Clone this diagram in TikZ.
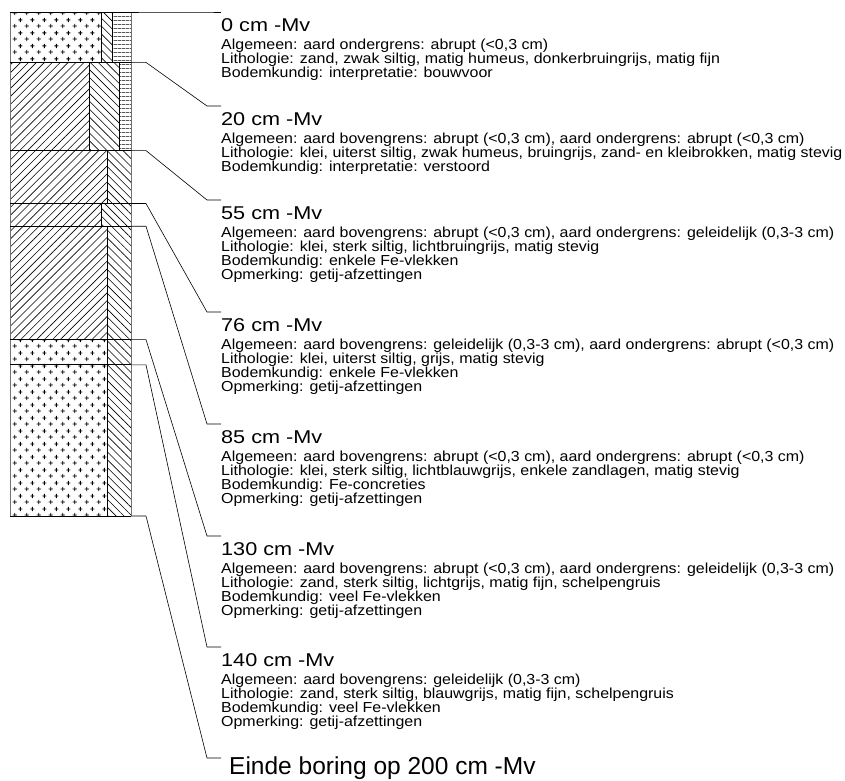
\documentclass[tikz,border=0pt]{standalone}
\usepackage{fontspec}
\setmainfont[FakeStretch=1.1]{Liberation Sans}
\newfontfamily\headfont[FakeStretch=1.17]{Liberation Sans}
\newfontfamily\endfont{Liberation Sans}
\usetikzlibrary{patterns.meta}

%% sand symbol: staggered plus signs
\tikzdeclarepattern{
  name=plusses,
  bounding box={(0pt,0pt) and (12pt,12.5pt)},
  tile size={(12pt,12.5pt)},
  code={
    \draw[line width=0.9pt] (0.8pt,3.1pt) -- (5.2pt,3.1pt) (3pt,0.9pt) -- (3pt,5.3pt)
      (6.8pt,9.4pt) -- (11.2pt,9.4pt) (9pt,7.2pt) -- (9pt,11.6pt);
  }
}

\begin{document}
\begin{tikzpicture}[x=1pt,y=-1pt,
    head/.style={anchor=base west,inner sep=0pt,font=\headfont\fontsize{18.5}{18.5}\selectfont},
    info/.style={anchor=base west,inner sep=0pt,align=left,font=\fontsize{14.5}{14}\selectfont},
    leader/.style={line width=0.6pt},
    divider/.style={line width=0.8pt},
    outline/.style={line width=0.8pt,black!55},
    slash/.style={pattern={Lines[angle=45,distance=5.6pt,line width=0.6pt]}},
    bslash/.style={pattern={Lines[angle=-45,distance=5.6pt,line width=0.6pt]}},
    hlines/.style={pattern={Lines[angle=0,distance=4pt,line width=0.6pt]}},
    sand/.style={pattern=plusses}]
    \useasboundingbox (0,0) rectangle (845,780);
    %% boring column, depth in cm
    \begin{scope}[yshift=-12pt,y=-2.52pt]
        \fill[sand]   (10,0)    rectangle (101,20);
        \fill[bslash] (101,0)   rectangle (112,20);
        \fill[hlines] (112,0)   rectangle (131,20);
        \fill[slash]  (10,20)   rectangle (89,55);
        \fill[bslash] (89,20)   rectangle (119,55);
        \fill[hlines] (119,20)  rectangle (131,55);
        \fill[slash]  (10,55)   rectangle (107,76);
        \fill[bslash] (107,55)  rectangle (131,76);
        \fill[slash]  (10,76)   rectangle (101,85);
        \fill[bslash] (101,76)  rectangle (131,85);
        \fill[slash]  (10,85)   rectangle (107,130);
        \fill[bslash] (107,85)  rectangle (131,130);
        \fill[sand]   (10,130)  rectangle (107,200);
        \fill[bslash] (107,130) rectangle (131,200);
        %% dividers
        \draw[divider] (101,0) -- (101,20) (112,0) -- (112,20)
            (89,20) -- (89,55) (119,20) -- (119,55)
            (107,55) -- (107,76) (101,76) -- (101,85) (107,85) -- (107,200);
        \draw[outline] (10,0) -- (10,200) (131,0) -- (131,200);
        %% layer borders
        \foreach \d in {0,20,55,76,85,130,140,200} {
            \draw[divider] (10,\d) -- (131,\d);
            \coordinate (b\d) at (131,\d);
        }
    \end{scope}
    %% leaders
    \foreach \d/\yl in {0/12,20/106,55/200,76/312,85/424,130/536,140/647,200/758} {
        \coordinate (l\d) at (207,\yl);
        \draw[leader] (b\d) -- ++(15,0) -- (l\d) -- ++(14,0);
    }
    %% descriptions (info base = last line)
    \node[head] (h0) at (221,31) {0 cm -Mv};
    \node[info] (i0) at (221,77) {Algemeen: aard ondergrens: abrupt (<0,3 cm)\\
        Lithologie: zand, zwak siltig, matig humeus, donkerbruingrijs, matig fijn\\
        Bodemkundig: interpretatie: bouwvoor};
    \node[head] (h20) at (221,125) {20 cm -Mv};
    \node[info] (i20) at (221,171) {Algemeen: aard bovengrens: abrupt (<0,3 cm), aard ondergrens: abrupt (<0,3 cm)\\
        Lithologie: klei, uiterst siltig, zwak humeus, bruingrijs, zand- en kleibrokken, matig stevig\\
        Bodemkundig: interpretatie: verstoord};
    \node[head] (h55) at (221,219) {55 cm -Mv};
    \node[info] (i55) at (221,279) {Algemeen: aard bovengrens: abrupt (<0,3 cm), aard ondergrens: geleidelijk (0,3-3 cm)\\
        Lithologie: klei, sterk siltig, lichtbruingrijs, matig stevig\\
        Bodemkundig: enkele Fe-vlekken\\
        Opmerking: getij-afzettingen};
    \node[head] (h76) at (221,331) {76 cm -Mv};
    \node[info] (i76) at (221,391) {Algemeen: aard bovengrens: geleidelijk (0,3-3 cm), aard ondergrens: abrupt (<0,3 cm)\\
        Lithologie: klei, uiterst siltig, grijs, matig stevig\\
        Bodemkundig: enkele Fe-vlekken\\
        Opmerking: getij-afzettingen};
    \node[head] (h85) at (221,443) {85 cm -Mv};
    \node[info] (i85) at (221,503) {Algemeen: aard bovengrens: abrupt (<0,3 cm), aard ondergrens: abrupt (<0,3 cm)\\
        Lithologie: klei, sterk siltig, lichtblauwgrijs, enkele zandlagen, matig stevig\\
        Bodemkundig: Fe-concreties\\
        Opmerking: getij-afzettingen};
    \node[head] (h130) at (221,555) {130 cm -Mv};
    \node[info] (i130) at (221,615) {Algemeen: aard bovengrens: abrupt (<0,3 cm), aard ondergrens: geleidelijk (0,3-3 cm)\\
        Lithologie: zand, sterk siltig, lichtgrijs, matig fijn, schelpengruis\\
        Bodemkundig: veel Fe-vlekken\\
        Opmerking: getij-afzettingen};
    \node[head] (h140) at (221,666) {140 cm -Mv};
    \node[info] (i140) at (221,726) {Algemeen: aard bovengrens: geleidelijk (0,3-3 cm)\\
        Lithologie: zand, sterk siltig, blauwgrijs, matig fijn, schelpengruis\\
        Bodemkundig: veel Fe-vlekken\\
        Opmerking: getij-afzettingen};
    \node[head,font=\endfont\fontsize{24.5}{24.5}\selectfont] (end) at (229,774) {Einde boring op 200 cm -Mv};
\end{tikzpicture}
\end{document}
